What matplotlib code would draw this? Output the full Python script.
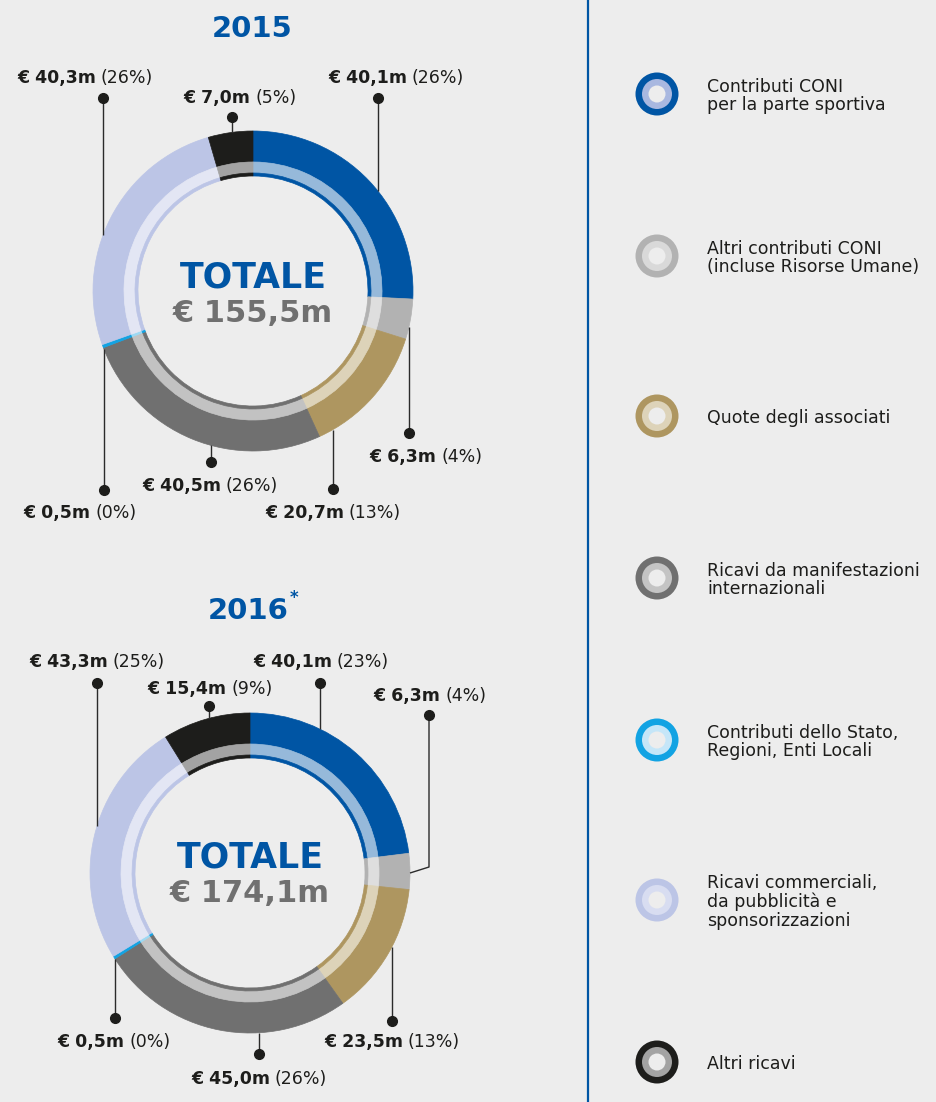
import matplotlib
matplotlib.use('Agg')
import matplotlib.pyplot as plt
from matplotlib.patches import Circle
import numpy as np

# ---------------- data ----------------
categories = [
    "Contributi CONI\nper la parte sportiva",
    "Altri contributi CONI\n(incluse Risorse Umane)",
    "Quote degli associati",
    "Ricavi da manifestazioni\ninternazionali",
    "Contributi dello Stato,\nRegioni, Enti Locali",
    "Ricavi commerciali,\nda pubblicità e\nsponsorizzazioni",
    "Altri ricavi",
]
values_2015 = [40.1, 6.3, 20.7, 40.5, 0.5, 40.3, 7.0]
pct_2015 = [26, 4, 13, 26, 0, 26, 5]
total_2015 = 155.5
values_2016 = [40.1, 6.3, 23.5, 45.0, 0.5, 43.3, 15.4]
pct_2016 = [23, 4, 13, 26, 0, 25, 9]
total_2016 = 174.1
years = ["2015", "2016"]

# ---------------- style ----------------
W, H = 937, 1102
BG = '#ededed'
BLUE = '#0055a4'
TXT = '#1d1d1b'
main_cols = ['#0055a4', '#b2b2b2', '#ae9660', '#707070', '#12a3e3', '#bcc5e6', '#1d1d1b']
light_cols = ['#96b9da', '#dedede', '#ddd3b9', '#c2c2c2', '#9dd9f3', '#e3e6f4', '#a3a3a3']
icon_inner = ['#a9b8e0', '#d9d9d9', '#ddd3b9', '#c4c4c4', '#c5e6f8', '#d8ddf1', '#a3a3a3']
FONT = 'DejaVu Sans'
plt.rcParams['font.family'] = [FONT]

fig = plt.figure(figsize=(W / 100, H / 100), dpi=100, facecolor=BG)
ax = fig.add_axes([0, 0, 1, 1])
ax.set_facecolor(BG)
ax.set_xlim(0, W)
ax.set_ylim(0, H)
renderer = fig.canvas.get_renderer()


def Y(p):
    return H - p


R = 160


def donut(cx, cy, values):
    c = (cx, Y(cy))
    layers = [(R, 31, main_cols), (R - 31, 11, light_cols), (R - 42, 3, main_cols)]
    for r, w, cols in layers:
        wedges, _ = ax.pie(values, colors=cols, radius=r, center=c, startangle=90,
                           counterclock=False, frame=True,
                           wedgeprops=dict(width=w, linewidth=0.5))
        for wd in wedges:
            wd.set_edgecolor(wd.get_facecolor())


def fmt(v):
    return ("€ %.1fm" % v).replace('.', ',')


def label(cx, cy, v, p, fs=12.5):
    t1 = ax.text(0, Y(cy) - 6, fmt(v), fontsize=fs, fontweight='bold', color=TXT,
                 ha='left', va='baseline')
    t2 = ax.text(0, Y(cy) - 6, "(%d%%)" % p, fontsize=fs, color=TXT,
                 ha='left', va='baseline')
    w1 = t1.get_window_extent(renderer).width
    w2 = t2.get_window_extent(renderer).width
    gap = 5
    x0 = cx - (w1 + gap + w2) / 2
    t1.set_x(x0)
    t2.set_x(x0 + w1 + gap)


def leader(dx, dy, cx, cy, side, bend=None):
    # vertical line from dot to the outer edge of the ring
    if bend is None:
        h = np.sqrt(max(R ** 2 - (dx - cx) ** 2, 0))
        ey = cy - h if side == 'top' else cy + h
        xs, ys = [dx, dx], [dy, ey]
    else:
        xs = [dx, bend[0], bend[2]]
        ys = [dy, bend[1], bend[3]]
    ax.plot(xs, [Y(v) for v in ys], color='#2b2b2b', lw=1.0, solid_capstyle='butt', zorder=1)
    ax.plot([dx], [Y(dy)], 'o', color='#1d1d1b', ms=7, zorder=5)


# ---------------- 2015 ----------------
c15 = (253, 291)
donut(*c15, values_2015)
ax.text(252, Y(29), years[0], fontsize=21, fontweight='bold', color=BLUE, ha='center', va='center')
ax.text(c15[0], Y(277), "TOTALE", fontsize=25, fontweight='bold', color=BLUE, ha='center', va='center')
ax.text(c15[0], Y(313), fmt(total_2015), fontsize=22, fontweight='bold', color='#707070', ha='center', va='center')

# (label cx, label cy, dot x, dot y, side)
lay15 = [(396, 77, 378, 98, 'top'),
         (426, 456, 409, 433, 'bottom'),
         (333, 512, 333, 489, 'bottom'),
         (210, 485, 211, 462, 'bottom'),
         (80, 512, 104, 490, 'bottom'),
         (85, 77, 103, 98, 'top'),
         (240, 97, 232, 117, 'top')]
for (lx, ly, dx, dy, side), v, p in zip(lay15, values_2015, pct_2015):
    leader(dx, dy, c15[0], c15[1], side)
    label(lx, ly, v, p)

# ---------------- 2016 ----------------
c16 = (250, 873)
donut(*c16, values_2016)
t = ax.text(248, Y(611), years[1], fontsize=21, fontweight='bold', color=BLUE, ha='center', va='center')
tw = t.get_window_extent(renderer).width
ax.text(248 + tw / 2 + 1, Y(598), "*", fontsize=12, fontweight='bold', color=BLUE, ha='left', va='center')
ax.text(c16[0], Y(857), "TOTALE", fontsize=25, fontweight='bold', color=BLUE, ha='center', va='center')
ax.text(c16[0], Y(893), fmt(total_2016), fontsize=22, fontweight='bold', color='#707070', ha='center', va='center')

lay16 = [(321, 661, 320, 683, 'top', None),
         (430, 695, 429, 715, 'top', (429, 867, 410, 873)),
         (392, 1041, 392, 1021, 'bottom', None),
         (259, 1078, 259, 1054, 'bottom', None),
         (114, 1041, 115, 1018, 'bottom', None),
         (97, 661, 97, 683, 'top', None),
         (210, 688, 209, 706, 'top', None)]
for (lx, ly, dx, dy, side, bend), v, p in zip(lay16, values_2016, pct_2016):
    leader(dx, dy, c16[0], c16[1], side, bend)
    label(lx, ly, v, p)

# ---------------- divider ----------------
ax.plot([588, 588], [0, H], color=BLUE, lw=1.6)

# ---------------- legend ----------------
icon_y = [94, 256, 416, 578, 740, 900, 1062]
for name, yy, mc, ic in zip(categories, icon_y, main_cols, icon_inner):
    ax.add_patch(Circle((657, Y(yy)), 21.5, facecolor=mc, edgecolor='none'))
    ax.add_patch(Circle((657, Y(yy)), 15, facecolor=ic, edgecolor='none'))
    ax.add_patch(Circle((657, Y(yy)), 8.5, facecolor=BG, edgecolor='none'))
    ax.text(707, Y(yy + 2), name, fontsize=12.5, color=TXT, ha='left', va='center',
            linespacing=1.05)

ax.set_xlim(0, W)
ax.set_ylim(0, H)
ax.set_aspect('auto')
ax.axis('off')
fig.savefig('out.png', dpi=100, facecolor=BG)
